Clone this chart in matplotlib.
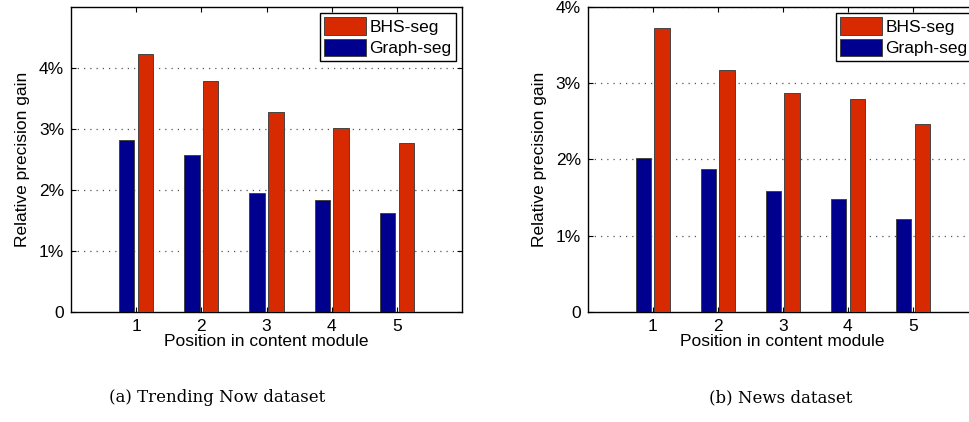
import numpy as np
import matplotlib
matplotlib.use("Agg")
import matplotlib.pyplot as plt
from matplotlib.ticker import FixedLocator, FixedFormatter


positions = [1, 2, 3, 4, 5]
series = ["BHS-seg", "Graph-seg"]

# Relative precision gain, in percent.
trend_bhs = [4.23, 3.78, 3.27, 3.01, 2.77]
trend_graph = [2.82, 2.57, 1.95, 1.84, 1.62]
news_bhs = [3.72, 3.17, 2.87, 2.79, 2.46]
news_graph = [2.02, 1.87, 1.59, 1.48, 1.22]

captions = ["(a) Trending Now dataset", "(b) News dataset"]
ytick_vals = [0, 1, 2, 3, 4]
ytick_labels = ["0", "1%", "2%", "3%", "4%"]

RED = "#D82A00"
BLUE = "#00008F"
SANS = ["Liberation Sans", "DejaVu Sans"]
SERIF = ["DejaVu Serif"]

plt.rcParams["font.family"] = SANS
plt.rcParams["font.size"] = 12.5


def draw_panel(ax, bhs, graph, ymax):
    """ MATLAB-like grouped bar panel. """
    x = np.array(positions)
    w = 0.235
    ax.bar(x - 0.145, graph, w, color=BLUE, edgecolor="#444444",
           linewidth=0.7, label=series[1], zorder=3)
    ax.bar(x + 0.145, bhs, w, color=RED, edgecolor="#444444",
           linewidth=0.7, label=series[0], zorder=3)

    ax.set_xlim(0, 6)
    ax.set_ylim(0, ymax)
    ax.set_xticks(positions)
    ax.yaxis.set_major_locator(FixedLocator(ytick_vals))
    ax.yaxis.set_major_formatter(FixedFormatter(ytick_labels))
    for v in ytick_vals[1:]:
        ax.axhline(v, color="#555555", linestyle=(0, (1, 4)),
                   linewidth=0.9, zorder=1)

    ax.tick_params(direction="in", top=True, right=True, length=3.5,
                   width=0.8, labelsize=12.5, pad=5)
    for s in ax.spines.values():
        s.set_linewidth(1.0)
        s.set_color("black")

    ax.set_xlabel("Position in content module", labelpad=0)
    ax.set_ylabel("Relative precision gain", labelpad=6)

    handles, labels = ax.get_legend_handles_labels()
    leg = ax.legend(handles[::-1], labels[::-1], loc="upper right",
                    fancybox=False, edgecolor="black", framealpha=1,
                    borderpad=0.25, handlelength=2.4, handleheight=1.2,
                    handletextpad=0.2, labelspacing=0.2,
                    borderaxespad=0.35, fontsize=12.5)
    leg.get_frame().set_linewidth(1.0)


fig = plt.figure(figsize=(9.69, 4.22), dpi=100)
ax1 = fig.add_axes([0.0733, 0.2614, 0.4035, 0.722])
ax2 = fig.add_axes([0.6065, 0.2614, 0.4025, 0.722])

draw_panel(ax1, trend_bhs, trend_graph, 5)
draw_panel(ax2, news_bhs, news_graph, 4)

fig.text(0.224, 0.057, captions[0], ha="center", va="center",
         family=SERIF, fontsize=12)
fig.text(0.806, 0.057, captions[1], ha="center", va="center",
         family=SERIF, fontsize=12)

fig.savefig("out.png", dpi=100)
